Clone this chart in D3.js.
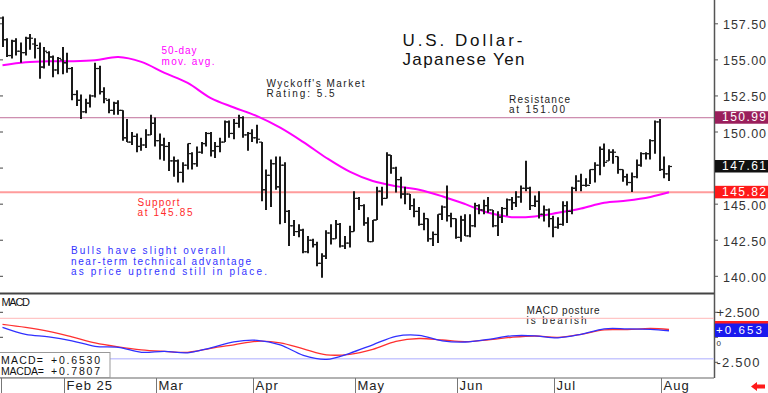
<!DOCTYPE html>
<html>
<head>
<meta charset="utf-8">
<title>U.S. Dollar - Japanese Yen</title>
<script src="https://cdn.jsdelivr.net/npm/d3@7"></script>
<style>
  body { margin: 0; background: #fff; }
  svg { display: block; font-family: "Liberation Sans", Arial, sans-serif; }
</style>
</head>
<body>
<svg id="chart" width="768" height="393"></svg>
<script>
// daily bars, Jan 15 - Aug 5 2025, [open, high, low, close]
var bars = [
  [157.9,158.0,155.9,156.4],[156.4,156.5,155.2,155.3],[155.3,156.4,155.1,156.3],[156.3,156.5,155.3,155.6],
  [155.6,156.2,154.8,155.5],[155.5,156.6,155.3,156.5],[156.5,156.8,155.7,156.5],[156.1,156.5,155.1,156.0],
  [155.8,156.2,153.7,154.5],[154.5,155.9,154.4,155.6],[155.5,155.6,154.6,155.2],[155.2,155.3,153.8,154.3],
  [154.3,155.2,154.0,155.1],
  // Feb
  [155.0,155.9,154.0,154.8],[154.8,155.5,154.1,154.4],[154.4,154.5,152.2,152.6],[152.6,152.9,151.8,152.2],
  [152.2,152.6,150.9,151.4],[151.4,152.3,151.3,152.0],[152.0,152.6,151.7,152.5],[152.5,154.8,152.4,154.4],
  [154.4,154.6,152.6,152.8],[152.8,153.1,152.0,152.3],[152.2,152.3,151.3,151.5],[151.5,152.1,151.2,152.0],
  [152.0,152.2,151.2,151.5],[151.5,151.5,149.4,149.6],[149.6,150.9,149.3,149.3],[149.3,150.0,149.1,149.7],
  [149.7,149.9,148.6,149.0],[149.0,149.6,148.7,149.1],[149.1,150.2,148.9,149.8],[149.8,151.2,149.8,150.6],
  // Mar
  [150.6,151.0,149.0,149.4],[149.4,149.9,148.1,149.1],[149.1,149.6,148.0,149.0],[149.0,149.3,147.3,148.0],
  [148.0,148.3,146.9,148.0],[148.0,148.1,146.5,147.2],[147.2,147.9,146.5,147.7],[147.7,149.2,147.4,149.2],
  [148.5,148.6,147.4,147.8],[147.8,149.0,147.6,148.6],[148.6,149.3,148.5,149.2],[149.2,150.0,149.0,149.9],
  [149.9,150.0,148.3,148.7],[148.7,149.3,148.2,149.0],[149.0,149.6,148.6,149.3],[149.3,150.8,149.3,150.7],
  [150.7,150.8,149.6,149.9],[149.9,150.9,149.5,150.6],[150.6,151.2,150.3,151.0],[151.0,151.1,149.6,149.8],
  [149.8,150.0,148.7,149.9],
  // Apr
  [149.9,150.2,149.3,149.6],[149.6,150.5,149.2,149.5],[149.3,149.3,145.2,146.0],[146.0,147.4,144.6,147.0],
  [147.0,148.1,144.8,147.8],[147.8,148.3,146.0,146.2],[146.2,148.3,143.6,147.7],[147.7,147.9,143.7,144.5],
  [144.5,144.6,142.1,143.5],[143.5,143.9,142.8,143.1],[143.1,143.6,142.7,143.2],[143.2,143.3,141.6,141.7],
  [141.7,142.8,141.6,142.5],[142.5,142.6,142.0,142.2],[142.2,142.4,140.7,140.9],[140.9,141.6,139.9,141.4],
  [141.4,143.2,141.2,143.0],[143.0,143.6,142.2,142.6],[142.6,143.9,142.6,143.6],[143.6,143.7,142.0,142.1],
  [142.1,142.8,141.9,142.3],[142.3,143.5,142.0,143.1],
  // May
  [143.1,145.9,143.1,145.4],[145.4,145.5,144.6,144.9],[144.9,145.0,143.5,143.7],[143.7,144.1,142.4,142.4],
  [142.4,143.9,142.4,143.9],[143.9,146.2,143.9,145.9],[145.9,146.2,144.9,145.4],[145.4,148.6,145.4,148.4],
  [148.4,148.4,147.1,147.5],[147.5,147.6,145.8,146.7],[146.7,146.9,145.4,145.7],[145.7,146.2,145.0,145.7],
  [145.7,145.7,144.6,144.9],[144.9,145.4,144.1,144.5],[144.5,144.8,143.5,143.6],[143.6,144.4,143.2,144.0],
  [144.0,144.0,142.4,142.6],[142.6,143.1,142.1,142.9],[142.9,144.3,142.3,144.3],[144.3,144.9,143.9,144.8],
  [144.8,146.3,143.8,144.2],[144.2,144.4,143.4,144.0],
  // Jun
  [144.0,144.0,142.6,142.7],[142.7,144.2,142.4,143.9],[143.9,144.3,142.8,142.8],[142.8,144.3,142.7,143.5],
  [143.5,145.1,143.4,144.9],[144.9,145.0,144.3,144.6],[144.6,145.3,144.3,144.9],[144.9,145.5,144.4,144.6],
  [144.6,144.6,143.4,143.5],[143.5,144.5,142.8,144.1],[144.1,144.8,143.7,144.7],[144.7,145.4,144.2,145.3],
  [145.3,145.5,144.6,145.1],[145.1,145.9,144.8,145.5],[145.5,146.3,145.1,146.1],[146.1,148.0,145.9,146.1],
  [146.1,146.2,144.6,144.9],[144.9,145.6,144.8,145.2],[145.2,145.9,144.0,144.3],[144.3,144.9,143.8,144.6],
  [144.6,144.7,143.4,144.0],
  // Jul
  [144.0,144.2,142.7,143.4],[143.4,144.1,143.3,143.6],[143.6,145.2,143.5,144.9],[144.9,145.2,143.7,144.5],
  [144.5,146.2,144.3,146.1],[146.1,147.0,145.9,146.6],[146.6,147.1,145.9,146.3],[146.3,146.8,146.2,146.3],
  [146.3,147.4,146.4,147.4],[147.4,147.9,146.5,147.7],[147.7,149.0,147.0,148.8],[148.8,149.2,147.6,147.9],
  [148.0,148.8,148.0,148.6],[148.6,148.8,147.8,148.6],[148.3,148.3,147.1,147.4],[147.4,147.4,146.55,146.9],
  [146.9,147.1,146.3,146.5],[146.5,147.2,145.85,146.9],[146.9,148.1,146.8,147.7],[147.7,148.6,147.6,148.5],
  [148.5,148.6,148.1,148.5],[148.5,149.5,148.1,149.4],[149.4,150.8,148.5,150.7],
  // Aug
  [150.7,150.9,147.3,147.4],[147.4,148.3,146.8,147.1],[147.1,147.7,146.6,147.61]
];

// 50-day moving average, read every 5th bar
var maIdx = [0,5,10,15,20,25,30,35,40,45,50,55,60,65,70,75,80,85,90,95,100,105,110,115,120,125,130,135,140,144];
var maVal = [154.62,154.83,154.9,154.9,154.97,155.2,154.86,154.1,153.4,152.35,151.7,151.1,150.3,149.3,148.2,147.25,
             146.6,146.25,146.0,145.55,145.0,144.4,144.1,144.15,144.4,144.7,145.1,145.25,145.5,145.82];

// MACD and its average, read every 5th bar
var macdIdx = maIdx;
var macdVal  = [1.0,0.3,0.05,-0.35,-0.9,-1.0,-1.5,-1.4,-1.55,-1.05,-0.45,-0.3,-0.75,-1.8,-2.2,-1.6,
                -0.75,0.1,0.2,-0.35,-0.47,-0.2,0.15,0.15,-0.05,0.3,0.85,0.85,0.8,0.653];
var macdaVal = [1.3,1.0,0.6,0.05,-0.55,-0.95,-1.25,-1.4,-1.5,-1.1,-0.75,-0.4,-0.55,-1.15,-1.75,-1.7,
                -1.2,-0.4,-0.12,-0.27,-0.43,-0.25,0.0,0.13,0.0,0.3,0.75,0.77,0.88,0.7807];

var priceTicks = [140, 142.5, 145, 147.5, 150, 152.5, 155, 157.5];
var macdTicks = [2.5, 0, -2.5];
var monthLabels = ["Jan", "Feb 25", "Mar", "Apr", "May", "Jun", "Jul", "Aug"];
var resistance = 150.99, support = 145.82, lastClose = 147.61;
var macdUpper = 1.9, macdLower = -2.15;
var lastMacd = 0.6530, lastMacda = 0.7807;

// weekday dates for the bars
var dates = d3.timeDay.range(new Date(2025, 0, 15), new Date(2025, 7, 6))
  .filter(function(d) { return d.getDay() % 6 !== 0; });

var svg = d3.select("#chart");
var W = 714;

var x = d3.scaleLinear().domain([0, bars.length - 1]).range([2.5, 669]);
var y = d3.scaleLinear().domain([140, 157.5]).range([276.3, 23.8]);
var ym = d3.scaleLinear().domain([-2.5, 2.5]).range([362.3, 312.3]);

// horizontal levels
svg.append("line").attr("x1", 0).attr("x2", W).attr("y1", y(resistance)).attr("y2", y(resistance))
  .attr("stroke", "#c0709a").attr("stroke-width", 1);
svg.append("line").attr("x1", 0).attr("x2", W).attr("y1", y(support)).attr("y2", y(support))
  .attr("stroke", "#ff9c9c").attr("stroke-width", 2);

// left edge ticks
svg.selectAll(".lt").data(priceTicks).enter().append("line")
  .attr("x1", 0).attr("x2", 3).attr("y1", function(d) { return y(d); }).attr("y2", function(d) { return y(d); })
  .attr("stroke", "#444");

// 50 day MA
var maLine = d3.line().curve(d3.curveCatmullRom)
  .x(function(d, i) { return x(maIdx[i]); }).y(function(d) { return y(d); });
svg.append("path").attr("d", maLine(maVal)).attr("fill", "none")
  .attr("stroke", "#ff00ff").attr("stroke-width", 2);

// OHLC bars
var g = svg.append("g").attr("stroke", "#1a1a1a");
bars.forEach(function(b, i) {
  var cx = Math.round(x(i));
  g.append("line").attr("x1", cx).attr("x2", cx).attr("y1", y(b[1])).attr("y2", y(b[2])).attr("stroke-width", 2);
  g.append("line").attr("x1", cx - 3).attr("x2", cx).attr("y1", y(b[0])).attr("y2", y(b[0])).attr("stroke-width", 1.2);
  g.append("line").attr("x1", cx).attr("x2", cx + 3).attr("y1", y(b[3])).attr("y2", y(b[3])).attr("stroke-width", 1.2);
});

// text helper
function lines(xp, ys, txts, color, size, lens) {
  txts.forEach(function(t, i) {
    var el = svg.append("text").attr("x", xp).attr("y", ys[i]).attr("fill", color)
      .attr("font-size", size).text(t);
    if (lens) el.attr("textLength", lens[i]).attr("lengthAdjust", "spacing");
  });
}

lines(402.5, [45.5, 64.5], ["U.S. Dollar-", "Japanese Yen"], "#111", 17, [120, 122]);
lines(161.5, [54, 65], ["50-day", "mov. avg."], "#ff00ff", 10, [35, 53]);
lines(266.5, [86.5, 97], ["Wyckoff's Market", "Rating: 5.5"], "#222", 10, [98, 68]);
lines(509, [102.5, 112.5], ["Resistance", "at 151.00"], "#222", 10, [61, 56]);
lines(137.5, [205.5, 215.5], ["Support", "at 145.85"], "#ff2a2a", 10, [42, 55]);
lines(71, [254, 264.5, 275], ["Bulls have slight overall", "near-term technical advantage", "as price uptrend still in place."],
  "#3333ff", 10, [154, 180, 196]);
lines(526.5, [314, 324], ["MACD posture", "is bearish"], "#222", 10, [73, 60]);

// right axis
svg.append("line").attr("x1", W + 0.5).attr("x2", W + 0.5).attr("y1", 0).attr("y2", 378)
  .attr("stroke", "#555").attr("stroke-width", 1.5);
var tagged = [lastClose];
priceTicks.forEach(function(t) {
  svg.append("line").attr("x1", W).attr("x2", W + 4).attr("y1", y(t)).attr("y2", y(t)).attr("stroke", "#555");
  // labels hidden behind a value tag are not drawn
  if (tagged.some(function(v) { return Math.abs(y(v) - y(t)) < 10; })) return;
  svg.append("text").attr("x", 723).attr("y", y(t) + 5.5).attr("font-size", 12.5).attr("fill", "#333")
    .attr("textLength", 43).attr("lengthAdjust", "spacing").text(d3.format(".2f")(t));
});

function tag(v, yy, bg) {
  svg.append("rect").attr("x", W + 1).attr("y", yy - 6.5).attr("width", 768 - W - 1).attr("height", 12.5).attr("fill", bg);
  svg.append("text").attr("x", 722).attr("y", yy + 3.5).attr("font-size", 12).attr("fill", "#fff")
    .attr("textLength", 44).attr("lengthAdjust", "spacing").text(v);
}
tag(d3.format(".2f")(resistance), y(resistance), "#9a1f5c");
tag(d3.format(".2f")(lastClose), y(lastClose), "#111");
tag(d3.format(".2f")(support), y(support), "#ff1a1a");

// panel borders
svg.append("line").attr("x1", 0).attr("x2", W).attr("y1", 293.5).attr("y2", 293.5).attr("stroke", "#444").attr("stroke-width", 2);
svg.append("line").attr("x1", 0).attr("x2", W).attr("y1", 378).attr("y2", 378).attr("stroke", "#666").attr("stroke-width", 1.2);

// MACD panel
svg.append("line").attr("x1", 0).attr("x2", W).attr("y1", ym(macdUpper)).attr("y2", ym(macdUpper)).attr("stroke", "#ffb8b8");
svg.append("line").attr("x1", 0).attr("x2", W).attr("y1", ym(macdLower)).attr("y2", ym(macdLower)).attr("stroke", "#c8c8ff").attr("stroke-width", 1.5);
svg.selectAll(".mt").data([2.5, 0]).enter().append("line")
  .attr("x1", 0).attr("x2", 3).attr("y1", function(d) { return ym(d); }).attr("y2", function(d) { return ym(d); })
  .attr("stroke", "#444");

var mLine = d3.line().curve(d3.curveCatmullRom)
  .x(function(d, i) { return x(macdIdx[i]); }).y(function(d) { return ym(d); });
svg.append("path").attr("d", mLine(macdaVal)).attr("fill", "none").attr("stroke", "#ff3030").attr("stroke-width", 1.3);
svg.append("path").attr("d", mLine(macdVal)).attr("fill", "none").attr("stroke", "#3030ff").attr("stroke-width", 1.3);

lines(1.5, [305.5], ["MACD"], "#111", 11, [28.5]);

macdTicks.forEach(function(t) {
  svg.append("line").attr("x1", W).attr("x2", W + 4).attr("y1", ym(t)).attr("y2", ym(t)).attr("stroke", "#555");
  var s = t === 0 ? "0" : (t > 0 ? "+" : "-") + d3.format(".3f")(Math.abs(t));
  var el = svg.append("text").attr("x", 716.5).attr("y", t === 0 ? 345.5 : ym(t) + 4.5)
    .attr("font-size", t === 0 ? 8 : 13).attr("fill", "#333").text(s);
  if (t !== 0) el.attr("textLength", 43).attr("lengthAdjust", "spacing");
});
svg.append("rect").attr("x", W + 1).attr("y", 321).attr("width", 768 - W - 1).attr("height", 3).attr("fill", "#ff2020");
svg.append("rect").attr("x", W + 1).attr("y", 323.5).attr("width", 768 - W - 1).attr("height", 13.5).attr("fill", "#1a1aee");
svg.append("text").attr("x", 716).attr("y", 334).attr("font-size", 11.5).attr("fill", "#fff")
  .attr("textLength", 46).attr("lengthAdjust", "spacing").text("+" + d3.format(".3f")(lastMacd));

// MACD value box
svg.append("rect").attr("x", -1).attr("y", 352.5).attr("width", 111).attr("height", 25).attr("fill", "#fff").attr("stroke", "#999");
lines(1, [364, 374.5], ["MACD=", "MACDA="], "#111", 10.5, [42, 43]);
lines(51, [364, 374.5], ["+" + d3.format(".4f")(lastMacd), "+" + d3.format(".4f")(lastMacda)], "#111", 10.5, [49, 49]);

// date axis
var firsts = [0];
dates.forEach(function(d, i) { if (i > 0 && d.getMonth() !== dates[i - 1].getMonth()) firsts.push(i); });
firsts.forEach(function(fi, k) {
  var tx = k === 0 ? 1.5 : Math.round(x(fi)) + 1.5;
  svg.append("line").attr("x1", tx).attr("x2", tx).attr("y1", 378).attr("y2", 393).attr("stroke", "#777");
  if (k === 0) return;
  svg.append("text").attr("x", tx + 2).attr("y", 389.5).attr("font-size", 13).attr("fill", "#222")
    .attr("letter-spacing", 1).text(monthLabels[dates[fi].getMonth()]);
});

// red arrow bottom right
svg.append("path").attr("d", "M751,386.5 L757,382 L757,384.5 L765,384.5 L765,388.5 L757,388.5 L757,391 Z").attr("fill", "#ff1a1a");
</script>
</body>
</html>
